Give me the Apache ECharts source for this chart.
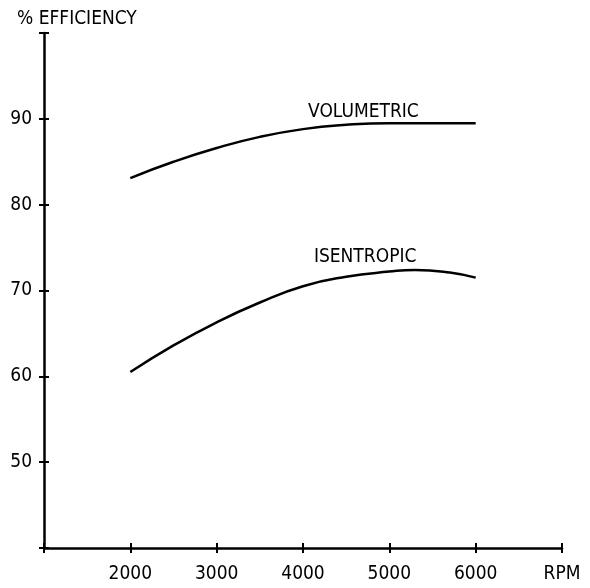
<!DOCTYPE html>
<html><head><meta charset="utf-8">
<script src="https://cdn.jsdelivr.net/npm/echarts@6/dist/echarts.min.js"></script>
<style>html,body{margin:0;padding:0;background:#fff}#c{width:590px;height:588px}</style>
</head><body><div id="c"></div>
<script>
const rpmVol = [2000, 2500, 3000, 3500, 4000, 4500, 5000, 5500, 6000];
const volumetric = [83.1, 85.0, 86.6, 87.9, 88.8, 89.3, 89.5, 89.5, 89.5];
const rpmIse = [2000, 2500, 3000, 3500, 4000, 4500, 5000, 5300, 5700, 6000];
const isentropic = [60.5, 63.6, 66.3, 68.6, 70.5, 71.6, 72.2, 72.4, 72.1, 71.5];
const xTickLabels = {2000: '2000', 3000: '3000', 4000: '4000', 5000: '5000', 6000: '6000', 7000: 'RPM'};
const yTickLabels = {50: '50', 60: '60', 70: '70', 80: '80', 90: '90'};
const curveLabelNames = ['VOLUMETRIC', 'ISENTROPIC'];
const curveLabelCoords = [[4700, 90.8], [4720, 73.9]];
const FONT = 'DejaVu Sans Condensed';
const FS = 19;
const chart = echarts.init(document.getElementById('c'));
const lineStyleAxis = {color: '#000', width: 2.5};
chart.setOption({
  animation: false,
  backgroundColor: '#fff',
  grid: {left: 44, right: 28, top: 33, bottom: 40, containLabel: false},
  xAxis: [
    {type: 'value', min: 1000, max: 7000, interval: 1000,
     axisLine: {show: true, lineStyle: lineStyleAxis, onZero: false},
     axisTick: {show: true, length: 5, lineStyle: {color: '#000', width: 2}},
     splitLine: {show: false},
     axisLabel: {color: '#000', fontFamily: FONT, fontSize: FS, margin: 17,
       formatter: v => xTickLabels[v] || ''}},
    {type: 'value', min: 1000, max: 7000, interval: 1000, position: 'bottom',
     axisLine: {show: false},
     axisTick: {show: true, inside: true, length: 5, lineStyle: {color: '#000', width: 2}},
     splitLine: {show: false}, axisLabel: {show: false}}
  ],
  yAxis: [
    {type: 'value', min: 40, max: 100, interval: 10,
     name: '% EFFICIENCY', nameLocation: 'end', nameGap: 4,
     nameTextStyle: {color: '#000', fontFamily: FONT, fontSize: FS, align: 'left', padding: [0, 0, 0, -27]},
     axisLine: {show: true, lineStyle: lineStyleAxis, onZero: false},
     axisTick: {show: true, length: 5, lineStyle: {color: '#000', width: 2}},
     splitLine: {show: false},
     axisLabel: {color: '#000', fontFamily: FONT, fontSize: FS, margin: 12,
       formatter: v => yTickLabels[v] || ''}},
    {type: 'value', min: 40, max: 100, interval: 10, position: 'left',
     axisLine: {show: false},
     axisTick: {show: true, inside: true, length: 5, lineStyle: {color: '#000', width: 2}},
     splitLine: {show: false}, axisLabel: {show: false}}
  ],
  series: [
    {type: 'line', name: 'VOLUMETRIC', smooth: true, showSymbol: false,
     data: rpmVol.map((r, i) => [r, volumetric[i]]),
     lineStyle: {color: '#000', width: 2.5}},
    {type: 'line', name: 'ISENTROPIC', smooth: true, showSymbol: false,
     data: rpmIse.map((r, i) => [r, isentropic[i]]),
     lineStyle: {color: '#000', width: 2.5}},
    {type: 'scatter', silent: true, symbolSize: 1,
     itemStyle: {color: 'rgba(0,0,0,0)', opacity: 1},
     data: curveLabelCoords.map((c, i) => ({value: c, name: curveLabelNames[i]})),
     label: {show: true, position: 'inside', color: '#000', opacity: 1, fontFamily: FONT, fontSize: FS,
       formatter: p => p.name}}
  ]
});
</script></body></html>
